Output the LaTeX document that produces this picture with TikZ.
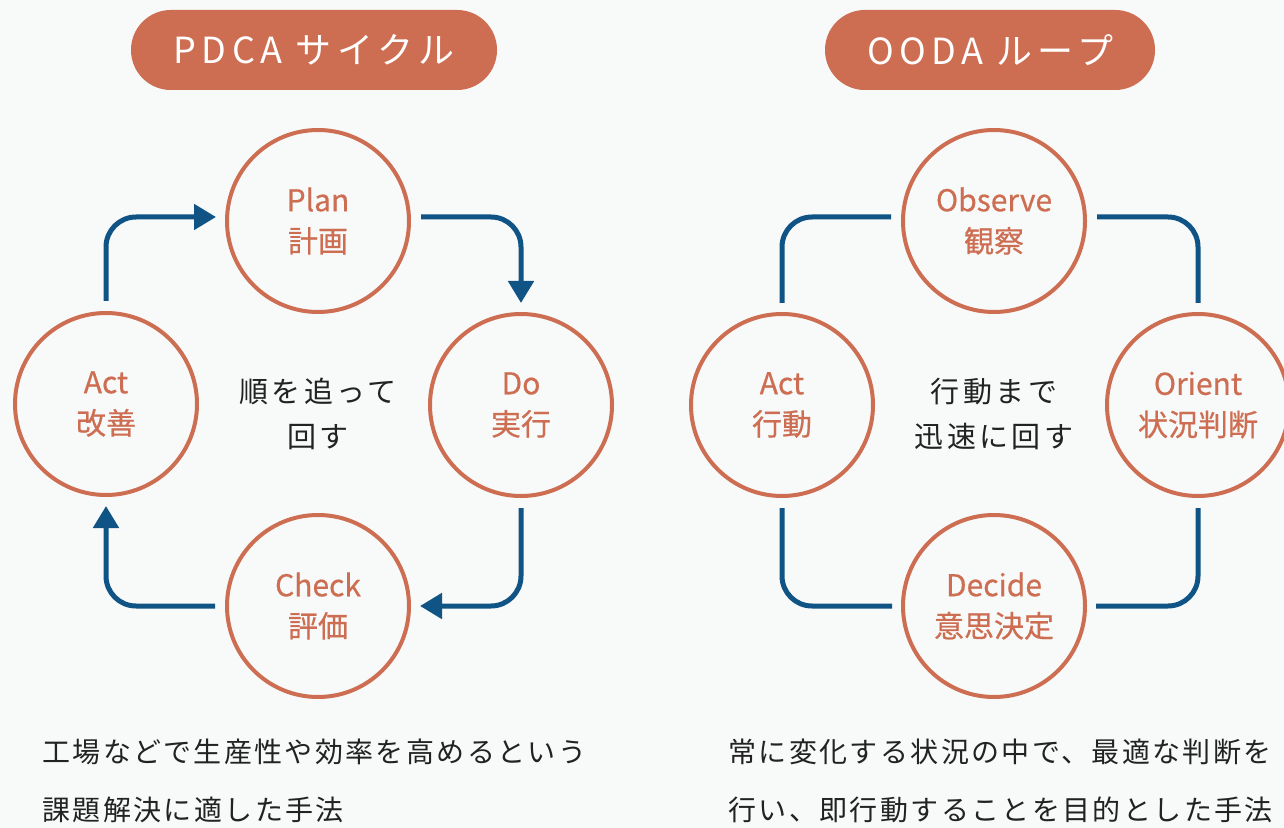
\documentclass[tikz,border=0pt]{standalone}
\usepackage{fontspec}
\setmainfont{Noto Sans CJK JP}
\usetikzlibrary{arrows.meta,positioning}
\definecolor{brick}{HTML}{CD6E52}
\definecolor{navy}{HTML}{105486}
\definecolor{paper}{HTML}{F8F9F9}
\definecolor{ink}{HTML}{222222}

\tikzset{
  stage/.style={draw=brick, line width=2pt, circle, minimum size=91pt, inner sep=0pt,
    text=brick, align=center, font=\fontsize{15}{20.5}\selectfont\addfontfeatures{FakeBold=0.6}},
  pill/.style={fill=brick, rounded corners=19.9pt, minimum height=40pt, text=white,
    font=\fontsize{18}{18}\selectfont\addfontfeatures{LetterSpace=15}},
  hub/.style={align=center, text=ink, font=\fontsize{14.5}{22.5}\selectfont\addfontfeatures{LetterSpace=12}},
  desc/.style={align=left, text=ink, anchor=west, inner sep=0pt,
    font=\fontsize{14}{29}\selectfont\addfontfeatures{LetterSpace=8.5}},
  link/.style={navy, line width=2.5pt, rounded corners=15pt, shorten <=5pt, shorten >=4.5pt},
  flowarrow/.style={link, -{Triangle[length=11pt, width=12.5pt]}}
}

\begin{document}
\begin{tikzpicture}[x=0.5pt, y=-0.5pt]
    \fill[paper] (0,0) rectangle (1284,828);
    \useasboundingbox (0,0) rectangle (1284,828);

    % PDCA
    \node[pill, minimum width=183pt] (pdca) at (314,50) {PDCA サイクル};
    \node[stage] (plan) at (318,221) {Plan\\計画};
    \node[stage] (do) at (521,405) {Do\\実行};
    \node[stage] (check) at (318,606) {Check\\評価};
    \node[stage] (act) at (106,404) {Act\\改善};
    \node[hub] (pdcanote) at (318,414) {順を追って\\回す};

    \draw[flowarrow] (act.north) |- ([yshift=2pt]plan.west);
    \draw[flowarrow] ([yshift=2pt]plan.east) -| (do.north);
    \draw[flowarrow] (do.south) |- (check.east);
    \draw[flowarrow] (check.west) -| (act.south);

    \node[desc] (pdcadesc) at (42,781) {工場などで生産性や効率を高めるという\\課題解決に適した手法};

    % OODA
    \node[pill, minimum width=165pt] (ooda) at (990,50) {OODA ループ};
    \node[stage] (observe) at (994,221) {Observe\\観察};
    \node[stage] (orient) at (1198,405) {Orient\\状況判断};
    \node[stage] (decide) at (994,606) {Decide\\意思決定};
    \node[stage] (action) at (782,405) {Act\\行動};
    \node[hub] (oodanote) at (994,414) {行動まで\\迅速に回す};

    \draw[link] ([yshift=2pt]observe.west) -| (action.north);
    \draw[link] ([yshift=2pt]observe.east) -| (orient.north);
    \draw[link] (orient.south) |- (decide.east);
    \draw[link] (action.south) |- (decide.west);

    \node[desc] (oodadesc) at (728,781) {常に変化する状況の中で、最適な判断を\\行い、即行動することを目的とした手法};
\end{tikzpicture}
\end{document}
